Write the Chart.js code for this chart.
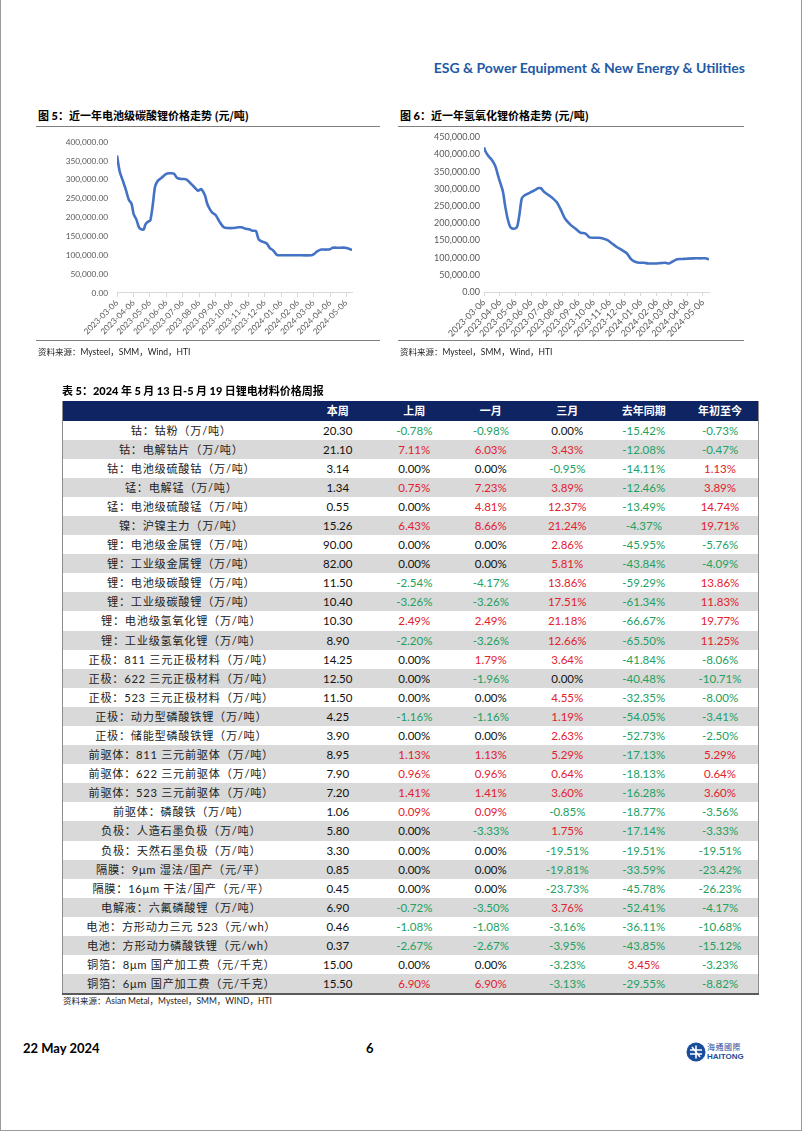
<!DOCTYPE html>
<html>
<head>
<meta charset="utf-8">
<script src="https://cdn.jsdelivr.net/npm/chart.js@4"></script>
<style>
  body { margin: 0; background: #fff; }
  #page { position: relative; width: 802px; height: 1132px; overflow: hidden;
    font-family: Lato, 'Noto Sans CJK SC', sans-serif; color: #000; }
  .frame { position: absolute; left: 0; top: 0; width: 800px; height: 1130px;
    border: 1px solid #9a9a9a; border-top: none; }
  .abs { position: absolute; white-space: nowrap; }
  #header { right: 57px; top: 59px; font-size: 14px; font-weight: bold; color: #1f5aa6; }
  .fig-title { font-size: 11px; font-weight: bold; font-family: 'Noto Sans CJK SC', sans-serif; }
  .fig-title b { font-family: Lato, sans-serif; }
  .rule { position: absolute; height: 0; border-top: 1px solid #7f7f7f; }
  .source { font-size: 8.5px; font-family: Lato, 'Noto Sans CJK SC', sans-serif; color: #222; }
  canvas { position: absolute; }
  #price-table { position: absolute; left: 62px; top: 401px; width: 696px;
    border-collapse: collapse; table-layout: fixed;
    border-left: 1px solid #8c8c8c; border-right: 1px solid #8c8c8c; border-bottom: 2px solid #5a5a5a; }
  #price-table th { background: #0f2462; color: #fff; height: 19.5px; padding: 0;
    font-family: 'Noto Sans CJK SC', sans-serif; font-size: 11px; font-weight: bold; line-height: 19.5px; }
  #price-table td { height: 19.1px; padding: 0; text-align: center; font-size: 11.5px; line-height: 19.1px; }
  #price-table td.name { font-family: Lato, 'Noto Sans CJK SC', sans-serif; font-size: 11.2px;
    letter-spacing: 0.7px; color: #222; }
  #price-table tr:nth-child(even) td { background: #d9d9d9; }
  .up { color: #e3202e; }
  .down { color: #22a060; }
  .flat { color: #111; }
  #footer-date { left: 23px; top: 1040px; font-size: 13px; font-weight: bold; }
  #footer-page { left: 366px; top: 1040px; font-size: 13px; font-weight: bold; }
  #logo-cn { left: 707px; top: 1041px; font-size: 8px; color: #1a4c9c; font-family: 'Noto Sans CJK TC', sans-serif; letter-spacing: 0.5px; }
  #logo-en { left: 707px; top: 1052px; font-size: 8px; font-weight: bold; color: #1a4c9c; font-family: 'Liberation Sans', sans-serif; }
</style>
</head>
<body>
<div id="page">
  <div class="frame"></div>
  <div id="header" class="abs">ESG &amp; Power Equipment &amp; New Energy &amp; Utilities</div>

  <div class="abs fig-title" style="left:38px; top:107px;">图 <b>5</b>：近一年电池级碳酸锂价格走势 (元/吨)</div>
  <div class="rule" style="left:36px; top:126px; width:344px;"></div>
  <canvas id="chart-carbonate" width="325" height="215" style="left:40px; top:128px;"></canvas>
  <div class="rule" style="left:36px; top:340px; width:344px;"></div>
  <div class="abs source" style="left:38px; top:345px;">资料来源：Mysteel，SMM，Wind，HTI</div>

  <div class="abs fig-title" style="left:400px; top:107px;">图 <b>6</b>：近一年氢氧化锂价格走势 (元/吨)</div>
  <div class="rule" style="left:398px; top:126px; width:346px;"></div>
  <canvas id="chart-hydroxide" width="320" height="215" style="left:400px; top:128px;"></canvas>
  <div class="rule" style="left:398px; top:340px; width:346px;"></div>
  <div class="abs source" style="left:400px; top:345px;">资料来源：Mysteel，SMM，Wind，HTI</div>

  <div class="abs fig-title" style="left:62px; top:382px;">表 <b>5</b>：<b>2024</b> 年 <b>5</b> 月 <b>13</b> 日<b>-5</b> 月 <b>19</b> 日锂电材料价格周报</div>
  <table id="price-table">
    <colgroup>
      <col style="width:237px"><col style="width:76.5px"><col style="width:76.5px"><col style="width:76.5px">
      <col style="width:76.5px"><col style="width:76.5px"><col style="width:76.5px">
    </colgroup>
    <thead><tr id="head-row"></tr></thead>
    <tbody id="table-body"></tbody>
  </table>
  <div class="abs source" style="left:63px; top:994px;">资料来源：Asian Metal，Mysteel，SMM，WIND，HTI</div>

  <div id="footer-date" class="abs">22 May 2024</div>
  <div id="footer-page" class="abs">6</div>
  <svg class="abs" style="left:686px; top:1042px;" width="20" height="20" viewBox="0 0 20 20">
    <circle cx="10" cy="10" r="9.5" fill="#1a4c9c"/>
    <path d="M4 8 H16 M4 12 H16 M10 3.5 V16.5 M6 5 Q10 10 14 15" stroke="#fff" stroke-width="1.6" fill="none"/>
  </svg>
  <div id="logo-cn" class="abs">海通國際</div>
  <div id="logo-en" class="abs">HAITONG</div>
</div>

<script>
'use strict';

// **** Chart Data ****

let xTickLabels = ['2023-03-06', '2023-04-06', '2023-05-06', '2023-06-06', '2023-07-06', '2023-08-06',
  '2023-09-06', '2023-10-06', '2023-11-06', '2023-12-06', '2024-01-06', '2024-02-06',
  '2024-03-06', '2024-04-06', '2024-05-06'];

let carbonateDates = ['2023-03-06', '2023-03-11', '2023-03-17', '2023-03-23', '2023-03-28', '2023-04-02',
  '2023-04-06', '2023-04-11', '2023-04-16', '2023-04-20', '2023-04-25', '2023-04-28', '2023-05-03',
  '2023-05-07', '2023-05-12', '2023-05-16', '2023-05-21', '2023-05-28', '2023-06-05', '2023-06-12',
  '2023-06-20', '2023-06-26', '2023-07-04', '2023-07-13', '2023-07-20', '2023-07-27', '2023-08-04',
  '2023-08-10', '2023-08-17', '2023-08-21', '2023-08-26', '2023-08-31', '2023-09-06', '2023-09-13',
  '2023-09-21', '2023-09-29', '2023-10-08', '2023-10-18', '2023-10-24', '2023-11-01', '2023-11-07',
  '2023-11-13', '2023-11-20', '2023-11-25', '2023-12-02', '2023-12-10', '2023-12-16', '2023-12-22',
  '2023-12-29', '2024-01-06', '2024-02-04', '2024-03-02', '2024-03-07', '2024-03-13', '2024-03-21',
  '2024-03-30', '2024-04-06', '2024-04-11', '2024-04-18', '2024-04-27', '2024-05-04', '2024-05-10',
  '2024-05-17'];
let carbonatePrices = [364000, 322000, 297000, 271000, 247000, 237000,
  209000, 195000, 174000, 169000, 169000, 182000, 189000,
  192000, 237000, 282000, 297000, 305000, 315000, 317000,
  316000, 305000, 302000, 301000, 292000, 282000, 271000,
  275000, 258000, 237000, 222000, 212000, 206000, 189000,
  174000, 172000, 172000, 174000, 174000, 170000, 169000,
  165000, 164000, 142000, 136000, 131000, 119000, 113000,
  101000, 100000, 100000, 100000, 103000, 110000, 115000,
  115000, 116000, 120000, 120000, 120000, 120000, 118000,
  114000];

let hydroxideDates = ['2023-03-06', '2023-03-09', '2023-03-14', '2023-03-21', '2023-03-28', '2023-04-02',
  '2023-04-06', '2023-04-12', '2023-04-16', '2023-04-21', '2023-04-26', '2023-04-30', '2023-05-06',
  '2023-05-10', '2023-05-14', '2023-05-19', '2023-05-25', '2023-06-01', '2023-06-07', '2023-06-14',
  '2023-06-19', '2023-06-25', '2023-07-01', '2023-07-10', '2023-07-18', '2023-07-26', '2023-08-03',
  '2023-08-11', '2023-08-21', '2023-08-31', '2023-09-10', '2023-09-20', '2023-09-28', '2023-10-06',
  '2023-10-16', '2023-10-24', '2023-11-02', '2023-11-11', '2023-11-20', '2023-11-30', '2023-12-10',
  '2023-12-17', '2023-12-23', '2023-12-31', '2024-01-12', '2024-01-21', '2024-02-03', '2024-02-13',
  '2024-02-23', '2024-03-01', '2024-03-07', '2024-03-17', '2024-03-27', '2024-04-05', '2024-04-18',
  '2024-05-01', '2024-05-11', '2024-05-18'];
let hydroxidePrices = [421000, 409000, 397000, 385000, 367000, 341000,
  321000, 292000, 253000, 214000, 190000, 185000, 185000,
  192000, 224000, 273000, 282000, 287000, 292000, 297000,
  302000, 302000, 292000, 282000, 273000, 261000, 239000,
  214000, 197000, 185000, 173000, 170000, 159000, 158000,
  158000, 156000, 151000, 141000, 131000, 122000, 112000,
  97000, 90000, 86000, 85000, 83000, 83000, 84000,
  85000, 83000, 88000, 95000, 96000, 97000, 98000,
  98000, 98000, 95000];

// **** Table Data ****

let tableHeaders = ['', '本周', '上周', '一月', '三月', '去年同期', '年初至今'];

let materialNames = ['钴：钴粉（万/吨）', '钴：电解钴片（万/吨）', '钴：电池级硫酸钴（万/吨）',
  '锰：电解锰（万/吨）', '锰：电池级硫酸锰（万/吨）', '镍：沪镍主力（万/吨）',
  '锂：电池级金属锂（万/吨）', '锂：工业级金属锂（万/吨）', '锂：电池级碳酸锂（万/吨）',
  '锂：工业级碳酸锂（万/吨）', '锂：电池级氢氧化锂（万/吨）', '锂：工业级氢氧化锂（万/吨）',
  '正极：811 三元正极材料（万/吨）', '正极：622 三元正极材料（万/吨）', '正极：523 三元正极材料（万/吨）',
  '正极：动力型磷酸铁锂（万/吨）', '正极：储能型磷酸铁锂（万/吨）', '前驱体：811 三元前驱体（万/吨）',
  '前驱体：622 三元前驱体（万/吨）', '前驱体：523 三元前驱体（万/吨）', '前驱体：磷酸铁（万/吨）',
  '负极：人造石墨负极（万/吨）', '负极：天然石墨负极（万/吨）', '隔膜：9μm 湿法/国产（元/平）',
  '隔膜：16μm 干法/国产（元/平）', '电解液：六氟磷酸锂（万/吨）', '电池：方形动力三元 523（元/wh）',
  '电池：方形动力磷酸铁锂（元/wh）', '铜箔：8μm 国产加工费（元/千克）', '铜箔：6μm 国产加工费（元/千克）'];

let thisWeek = [20.30, 21.10, 3.14, 1.34, 0.55, 15.26, 90.00, 82.00, 11.50, 10.40, 10.30, 8.90,
  14.25, 12.50, 11.50, 4.25, 3.90, 8.95, 7.90, 7.20, 1.06, 5.80, 3.30, 0.85, 0.45, 6.90,
  0.46, 0.37, 15.00, 15.50];
let vsLastWeek = [-0.78, 7.11, 0.00, 0.75, 0.00, 6.43, 0.00, 0.00, -2.54, -3.26, 2.49, -2.20,
  0.00, 0.00, 0.00, -1.16, 0.00, 1.13, 0.96, 1.41, 0.09, 0.00, 0.00, 0.00, 0.00, -0.72,
  -1.08, -2.67, 0.00, 6.90];
let vsOneMonth = [-0.98, 6.03, 0.00, 7.23, 4.81, 8.66, 0.00, 0.00, -4.17, -3.26, 2.49, -3.26,
  1.79, -1.96, 0.00, -1.16, 0.00, 1.13, 0.96, 1.41, 0.09, -3.33, 0.00, 0.00, 0.00, -3.50,
  -1.08, -2.67, 0.00, 6.90];
let vsThreeMonths = [0.00, 3.43, -0.95, 3.89, 12.37, 21.24, 2.86, 5.81, 13.86, 17.51, 21.18, 12.66,
  3.64, 0.00, 4.55, 1.19, 2.63, 5.29, 0.64, 3.60, -0.85, 1.75, -19.51, -19.81, -23.73, 3.76,
  -3.16, -3.95, -3.23, -3.13];
let vsLastYear = [-15.42, -12.08, -14.11, -12.46, -13.49, -4.37, -45.95, -43.84, -59.29, -61.34, -66.67, -65.50,
  -41.84, -40.48, -32.35, -54.05, -52.73, -17.13, -18.13, -16.28, -18.77, -17.14, -19.51, -33.59, -45.78, -52.41,
  -36.11, -43.85, 3.45, -29.55];
let yearToDate = [-0.73, -0.47, 1.13, 3.89, 14.74, 19.71, -5.76, -4.09, 13.86, 11.83, 19.77, 11.25,
  -8.06, -10.71, -8.00, -3.41, -2.50, 5.29, 0.64, 3.60, -3.56, -3.33, -19.51, -23.42, -26.23, -4.17,
  -10.68, -15.12, -3.23, -8.82];

// **** Helper Functions ****

function dayOffset(dateStr) {
  return (Date.parse(dateStr) - Date.parse(xTickLabels[0])) / 86400000;
}

function formatPrice(value) {
  return value.toLocaleString('en-US', { minimumFractionDigits: 2, maximumFractionDigits: 2 });
}

function changeCell(value) {
  let td = document.createElement('td');
  td.textContent = value.toFixed(2) + '%';
  td.className = value > 0 ? 'up' : (value < 0 ? 'down' : 'flat');
  return td;
}

// **** Render Table ****

function renderTable() {
  let headRow = document.getElementById('head-row');
  for (let i = 0; i < tableHeaders.length; i++) {
    let th = document.createElement('th');
    th.textContent = tableHeaders[i];
    headRow.appendChild(th);
  }

  let body = document.getElementById('table-body');
  for (let i = 0; i < materialNames.length; i++) {
    let tr = document.createElement('tr');

    let nameCell = document.createElement('td');
    nameCell.className = 'name';
    nameCell.textContent = materialNames[i];
    tr.appendChild(nameCell);

    let priceCell = document.createElement('td');
    priceCell.className = 'flat';
    priceCell.textContent = thisWeek[i].toFixed(2);
    tr.appendChild(priceCell);

    tr.appendChild(changeCell(vsLastWeek[i]));
    tr.appendChild(changeCell(vsOneMonth[i]));
    tr.appendChild(changeCell(vsThreeMonths[i]));
    tr.appendChild(changeCell(vsLastYear[i]));
    tr.appendChild(changeCell(yearToDate[i]));
    body.appendChild(tr);
  }
}

renderTable();

// **** Render Charts ****

function renderChart(canvasId, dates, prices, yMax, layout) {
  let points = [];
  for (let i = 0; i < dates.length; i++) {
    points.push({ x: dayOffset(dates[i]), y: prices[i] });
  }
  let tickDays = xTickLabels.map(dayOffset);

  let ctx = document.getElementById(canvasId).getContext('2d');

  new Chart(ctx, {
    type: 'line',
    data: {
      datasets: [{
        data: points,
        borderColor: '#4472c4',
        borderWidth: 2.6,
        pointRadius: 0,
        tension: 0.3,
        fill: false
      }]
    },
    options: {
      responsive: false,
      animation: false,
      layout: { padding: { top: layout.top, right: layout.right, left: 0, bottom: 0 } },
      plugins: { legend: { display: false }, tooltip: { enabled: false } },
      scales: {
        x: {
          type: 'linear',
          min: 0,
          max: points[points.length - 1].x,
          afterBuildTicks: axis => { axis.ticks = tickDays.map(d => ({ value: d })); },
          afterFit: axis => { axis.height = layout.xHeight; },
          ticks: {
            autoSkip: false,
            minRotation: 45,
            maxRotation: 45,
            padding: 1,
            color: '#595959',
            font: { family: 'Lato', size: layout.font },
            callback: (value, index) => xTickLabels[index]
          },
          grid: { drawOnChartArea: false, tickLength: 4, color: '#d9d9d9' },
          border: { color: '#d9d9d9' }
        },
        y: {
          min: 0,
          max: yMax,
          afterFit: axis => { axis.width = layout.yWidth; },
          ticks: {
            stepSize: 50000,
            padding: layout.yPad,
            color: '#595959',
            font: { family: 'Lato', size: layout.font },
            callback: value => formatPrice(value)
          },
          grid: { display: false, drawTicks: false, tickLength: 0 },
          border: { display: false }
        }
      }
    }
  });
}

renderChart('chart-carbonate', carbonateDates, carbonatePrices, 400000,
  { top: 8, right: 13, xHeight: 50, yWidth: 77, yPad: 9, font: 8.3 });
renderChart('chart-hydroxide', hydroxideDates, hydroxidePrices, 450000,
  { top: 9, right: 11, xHeight: 51, yWidth: 84, yPad: 4, font: 9 });
</script>
</body>
</html>
